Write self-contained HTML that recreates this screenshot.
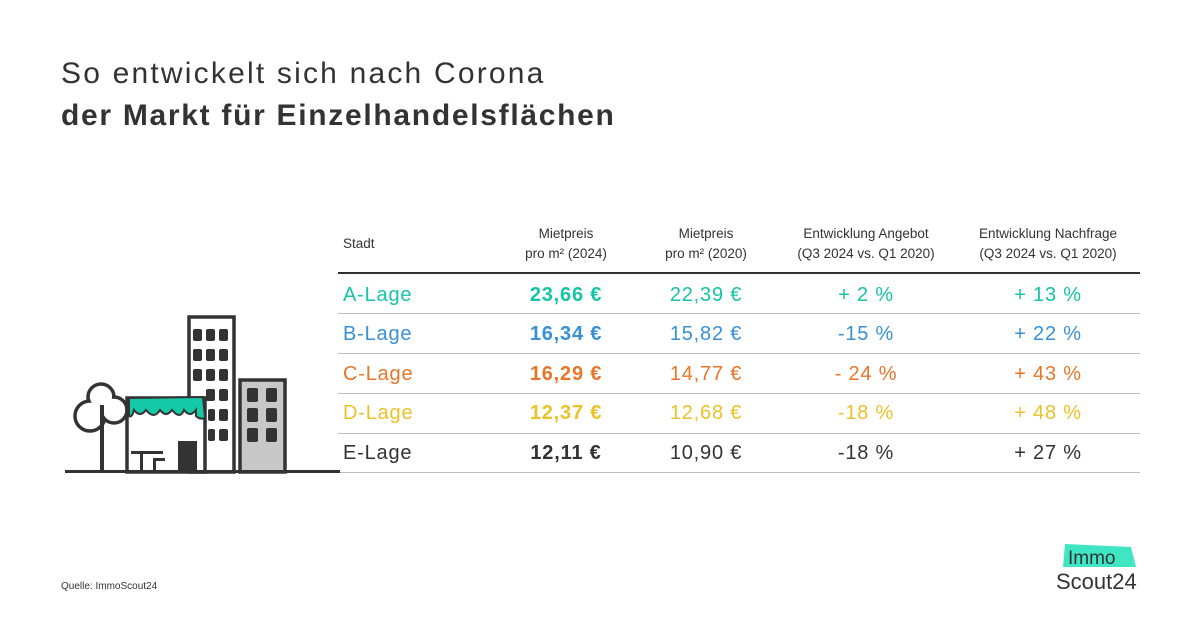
<!DOCTYPE html>
<html><head><meta charset="utf-8"><style>
body{margin:0;width:1200px;height:630px;background:#fff;font-family:"Liberation Sans",sans-serif;color:#333;position:relative;overflow:hidden}
.t1{position:absolute;left:61px;top:57px;font-size:30px;letter-spacing:2.2px;color:#333}
.t2{position:absolute;left:61px;top:99px;font-size:30px;letter-spacing:1.7px;font-weight:bold;color:#333}
.h{position:absolute;font-size:13.5px;line-height:20px;text-align:center;color:#333}
.r{position:absolute;font-size:20px;letter-spacing:0.8px}
.line{position:absolute;left:338px;width:802px;height:1px;background:#bbb}
.src{position:absolute;left:61px;top:581px;font-size:10px;color:#333}
</style></head><body>
<div class="t1">So entwickelt sich nach Corona</div>
<div class="t2">der Markt für Einzelhandelsflächen</div>

<div class="h" style="left:343px;top:234px;text-align:left">Stadt</div>
<div class="h" style="left:486px;width:160px;top:224px">Mietpreis<br>pro m² (2024)</div>
<div class="h" style="left:626px;width:160px;top:224px">Mietpreis<br>pro m² (2020)</div>
<div class="h" style="left:776px;width:180px;top:224px">Entwicklung Angebot<br>(Q3 2024 vs. Q1 2020)</div>
<div class="h" style="left:958px;width:180px;top:224px">Entwicklung Nachfrage<br>(Q3 2024 vs. Q1 2020)</div>
<div class="line" style="top:272px;height:2px;background:#333"></div>
<div class="line" style="top:313px"></div>
<div class="line" style="top:353px"></div>
<div class="line" style="top:393px"></div>
<div class="line" style="top:433px"></div>
<div class="line" style="top:472px"></div>

<div id="rows"></div>
<script>
var d=[["A-Lage","23,66 €","22,39 €","+ 2 %","+ 13 %","#15c4a4",284],
["B-Lage","16,34 €","15,82 €","-15 %","+ 22 %","#3791d6",323],
["C-Lage","16,29 €","14,77 €","- 24 %","+ 43 %","#e6772a",363],
["D-Lage","12,37 €","12,68 €","-18 %","+ 48 %","#ecc22a",402],
["E-Lage","12,11 €","10,90 €","-18 %","+ 27 %","#333",442]];
var h="";d.forEach(function(r){
h+='<div class="r" style="left:343px;top:'+r[6]+'px;color:'+r[5]+'">'+r[0]+'</div>';
h+='<div class="r" style="left:486px;width:160px;text-align:center;font-weight:bold;top:'+r[6]+'px;color:'+r[5]+'">'+r[1]+'</div>';
h+='<div class="r" style="left:626px;width:160px;text-align:center;top:'+r[6]+'px;color:'+r[5]+'">'+r[2]+'</div>';
h+='<div class="r" style="left:776px;width:180px;text-align:center;top:'+r[6]+'px;color:'+r[5]+'">'+r[3]+'</div>';
h+='<div class="r" style="left:958px;width:180px;text-align:center;top:'+r[6]+'px;color:'+r[5]+'">'+r[4]+'</div>';});
document.getElementById("rows").innerHTML=h;
</script>

<svg style="position:absolute;left:0;top:0" width="340" height="480">
<g stroke="#333" stroke-width="3.5" fill="#fff">
<rect x="189" y="317" width="45" height="155"/>
<rect x="240" y="380" width="45" height="92" fill="#c8c8c8"/>
<circle cx="101" cy="397" r="13"/>
<circle cx="90" cy="416" r="15"/>
<circle cx="114" cy="410" r="13"/>
</g>
<circle cx="101" cy="397" r="11" fill="#fff"/>
<circle cx="90" cy="416" r="13" fill="#fff"/>
<circle cx="114" cy="410" r="11" fill="#fff"/>
<rect x="127" y="398" width="78" height="74" fill="#fff" stroke="#333" stroke-width="3.5"/>
<g fill="#333">
<rect x="193" y="329" width="9" height="12" rx="2"/><rect x="206" y="329" width="9" height="12" rx="2"/><rect x="219" y="329" width="9" height="12" rx="2"/>
<rect x="193" y="349" width="9" height="12" rx="2"/><rect x="206" y="349" width="9" height="12" rx="2"/><rect x="219" y="349" width="9" height="12" rx="2"/>
<rect x="193" y="369" width="9" height="12" rx="2"/><rect x="206" y="369" width="9" height="12" rx="2"/><rect x="219" y="369" width="9" height="12" rx="2"/>
<rect x="206" y="389" width="9" height="12" rx="2"/><rect x="219" y="389" width="9" height="12" rx="2"/>
<rect x="208" y="409" width="7" height="12" rx="2"/><rect x="219" y="409" width="9" height="12" rx="2"/>
<rect x="208" y="429" width="7" height="12" rx="2"/><rect x="219" y="429" width="9" height="12" rx="2"/>
<rect x="247" y="388" width="11" height="14" rx="2"/><rect x="266" y="388" width="11" height="14" rx="2"/>
<rect x="247" y="408" width="11" height="14" rx="2"/><rect x="266" y="408" width="11" height="14" rx="2"/>
<rect x="247" y="428" width="11" height="14" rx="2"/><rect x="266" y="428" width="11" height="14" rx="2"/>
<rect x="178" y="441" width="19" height="31"/>
<rect x="100" y="405" width="4" height="67"/>
<rect x="131" y="451" width="32" height="3"/><rect x="140" y="451" width="3" height="21"/><rect x="153" y="458" width="3" height="14"/><rect x="153" y="458" width="12" height="3"/>
</g>
<path d="M129 398 L203 397 L205 418 Q200 420 196 416 L196 410 Q190 418 184 410 Q180 420 172 410 Q166 418 160 410 Q154 420 146 410 Q140 418 134 410 Q132 418 129 416Z" fill="#15c9a6" stroke="#333" stroke-width="2"/>
<rect x="65" y="470" width="275" height="3" fill="#333"/>
</svg>

<div class="src">Quelle: ImmoScout24</div>
<svg style="position:absolute;left:1054px;top:542px" width="90" height="52">
<polygon points="11,2 77,5 82,25 9,25" fill="#3ee6c4"/>
<text x="14" y="22" font-family="Liberation Sans,sans-serif" font-size="19" fill="#333">Immo</text>
<text x="2" y="47" font-family="Liberation Sans,sans-serif" font-size="22" fill="#333">Scout24</text>
</svg>
</body></html>
